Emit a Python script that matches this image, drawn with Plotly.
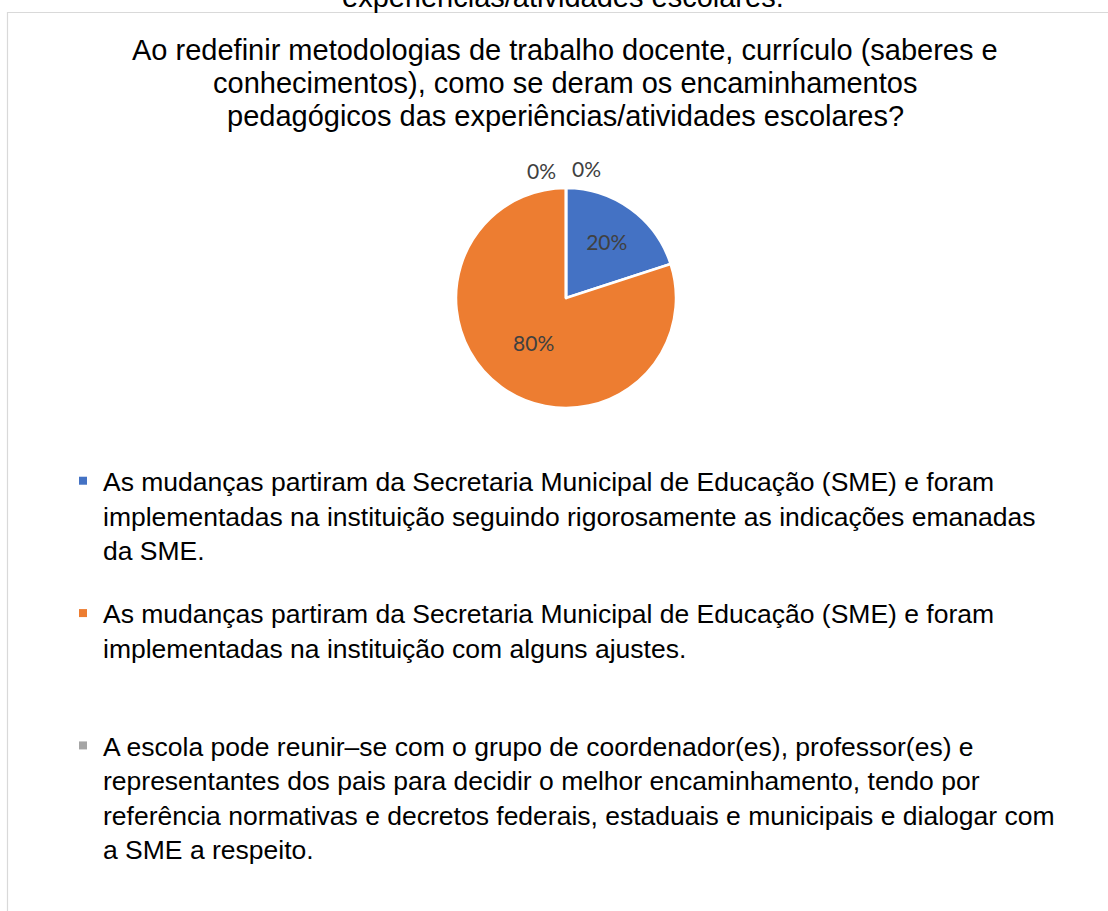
import plotly.graph_objects as go

# ---- data ----
categories = [
    "As mudanças partiram da Secretaria Municipal de Educação (SME) e foram<br>implementadas na instituição seguindo rigorosamente as indicações emanadas<br>da SME.",
    "As mudanças partiram da Secretaria Municipal de Educação (SME) e foram<br>implementadas na instituição com alguns ajustes.",
    "A escola pode reunir–se com o grupo de coordenador(es), professor(es) e<br>representantes dos pais para decidir o melhor encaminhamento, tendo por<br>referência normativas e decretos federais, estaduais e municipais e dialogar com<br>a SME a respeito.",
    "Outros",
]
values = [20, 80, 0, 0]
colors = ["#4472C4", "#ED7D31", "#A5A5A5", "#FFC000"]
legend_pad = ["", "<br>", "", ""]
title_lines = [
    "Ao redefinir metodologias de trabalho docente, currículo (saberes e",
    "conhecimentos), como se deram os encaminhamentos",
    "pedagógicos das experiências/atividades escolares?",
]
top_text = "experiências/atividades escolares."

W, H = 1108, 911
def px(x): return x / W
def py(y): return 1 - y / H

TXT = "Liberation Sans, Arial, sans-serif"
LBL = "Lato, Noto Sans, sans-serif"

fig = go.Figure()
fig.add_trace(go.Pie(
    labels=categories, values=values, sort=False, direction="clockwise", rotation=0,
    marker=dict(colors=colors, line=dict(color="white", width=2.5)),
    textinfo="percent", texttemplate="%{percent:.0%}", textposition="inside",
    insidetextorientation="horizontal",
    textfont=dict(family=LBL, size=21, color="#404040"),
    domain=dict(x=[px(456), px(676)], y=[py(408), py(188)]),
    showlegend=False, hoverinfo="label+percent",
))

# zero-valued slice labels (not drawn by the pie itself)
zero_pos = [(586, 168), (541, 171)]
for i, (xx, yy) in zip([2, 3], zero_pos):
    pct = values[i] / sum(values) * 100
    fig.add_annotation(x=px(xx), y=py(yy), xref="paper", yref="paper", showarrow=False,
                       text=f"{pct:.0f}%", xanchor="center", yanchor="middle",
                       font=dict(family=LBL, size=21, color="#404040"))

# legend entries (first three categories)
for i in range(3):
    fig.add_trace(go.Scatter(
        x=[None], y=[None], mode="markers", name=categories[i] + legend_pad[i],
        marker=dict(symbol="square", size=8, color=colors[i]),
        legendgroup=f"g{i}", showlegend=True,
    ))

# chart title (one annotation per line to match line spacing)
for k, line in enumerate(title_lines):
    fig.add_annotation(x=px(565), y=py(50 + 33 * k), xref="paper", yref="paper",
                       showarrow=False, text=line, xanchor="center", yanchor="middle",
                       font=dict(family=TXT, size=29, color="#000000"))

fig.add_annotation(x=px(563), y=py(-3), xref="paper", yref="paper", showarrow=False,
                   text=top_text, xanchor="center", yanchor="middle",
                   font=dict(family=TXT, size=29, color="#000000"))

fig.add_shape(type="rect", xref="paper", yref="paper",
              x0=px(7.5), x1=1.05, y0=-0.05, y1=py(12.5),
              line=dict(color="#D9D9D9", width=1.2), fillcolor="rgba(0,0,0,0)", layer="below")

fig.update_layout(
    width=W, height=H, margin=dict(l=0, r=0, t=0, b=0),
    paper_bgcolor="white", plot_bgcolor="white",
    xaxis=dict(visible=False), yaxis=dict(visible=False),
    legend=dict(x=px(63), xanchor="left", y=py(457), yanchor="top", valign="top",
                tracegroupgap=26,
                font=dict(family=TXT, size=26.5, color="#000000"),
                bgcolor="rgba(0,0,0,0)"),
)

fig.write_html("out.html", config={"displayModeBar": False},
               post_script="document.body.style.margin='0';document.body.style.overflow='hidden';")
